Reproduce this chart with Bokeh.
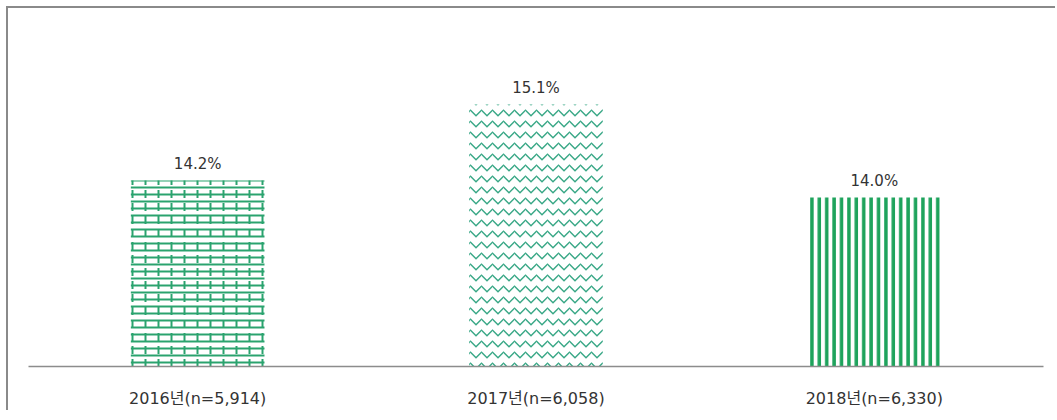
from bokeh.plotting import figure
from bokeh.models import ColumnDataSource, Range1d
from bokeh.core.properties import value
from bokeh.embed import file_html
from bokeh.resources import INLINE

categories = ["2016년(n=5,914)", "2017년(n=6,058)", "2018년(n=6,330)"]
values = [14.2, 15.1, 14.0]
labels = ["14.2%", "15.1%", "14.0%"]

FONT = "DejaVu Sans, Noto Sans CJK KR"

p = figure(x_range=categories, y_range=Range1d(12, 16), width=1049, height=404,
           output_backend="svg", toolbar_location=None,
           min_border_left=20, min_border_right=14, min_border_top=20, min_border_bottom=46)
p.styles = {"margin-left": "6px", "margin-top": "6px",
            "border-left": "2px solid #8a8a8a", "border-top": "2px solid #8a8a8a"}

# 2016: brick-like texture (horizontal lines + staggered short verticals)
p.vbar(x=[categories[0]], top=[values[0]], bottom=12, width=0.395,
       fill_color="white", line_color=None,
       hatch_pattern="horizontal_line", hatch_color="#2aa36e", hatch_weight=2, hatch_scale=7)
p.vbar(x=[categories[0]], top=[values[0]], bottom=12, width=0.395,
       fill_alpha=0, line_color=None,
       hatch_pattern="vertical_dash", hatch_color="#2aa36e", hatch_weight=2, hatch_scale=13)
# 2017: wave texture
p.vbar(x=[categories[1]], top=[values[1]], bottom=12, width=0.395,
       fill_color="white", line_color=None,
       hatch_pattern="horizontal_wave", hatch_color="#3aa887", hatch_weight=1.5, hatch_scale=11)
# 2018: vertical stripes
p.vbar(x=[categories[2]], top=[values[2]], bottom=12, width=0.395,
       fill_color="white", line_color=None,
       hatch_pattern="vertical_line", hatch_color="#1ea35c", hatch_weight=3.5, hatch_scale=7.4)

src = ColumnDataSource(dict(x=categories, y=values, t=labels))
p.text(x="x", y="y", text="t", source=src, text_align="center", text_baseline="bottom",
       y_offset=-8, text_font=value(FONT), text_font_size="15px", text_color="#333333")

p.yaxis.visible = False
p.xgrid.grid_line_color = None
p.ygrid.grid_line_color = None
p.outline_line_color = None
p.xaxis.axis_line_color = "#8c8c8c"
p.xaxis.axis_line_width = 1.5
p.xaxis.major_tick_line_color = None
p.xaxis.minor_tick_line_color = None
p.xaxis.major_label_text_font = FONT
p.xaxis.major_label_text_font_size = "16px"
p.xaxis.major_label_text_color = "#333333"
p.xaxis.major_label_standoff = 16
p.background_fill_color = "white"
p.border_fill_color = "white"

open("out.html", "w").write(file_html(p, INLINE))
